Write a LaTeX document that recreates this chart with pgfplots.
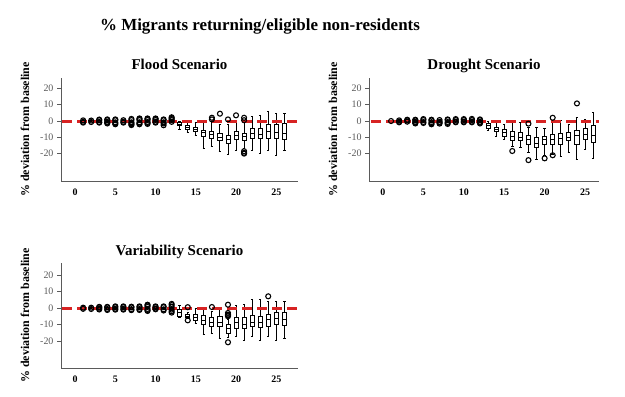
\documentclass[border=0pt]{standalone}
\usepackage{fontspec}
\setmainfont{Liberation Serif}
\usepackage{pgfplots}
\pgfplotsset{compat=1.18}
\usepgfplotslibrary{statistics}
\definecolor{axgray}{RGB}{90,90,90}
\definecolor{zred}{RGB}{215,35,35}
\newcommand{\bx}[7]{\addplot[black, mark=o, mark size=2.5bp, mark options={solid, draw=black, fill=none, line width=1.1pt}, boxplot prepared={draw position=#1,lower whisker=#2,lower quartile=#3,median=#4,upper quartile=#5,upper whisker=#6}] coordinates {#7};}
\newcommand{\ebx}[2]{\bx{#1}{-0.3}{-0.15}{0}{0.15}{0.3}{#2}}
\pgfplotsset{
  myax/.style={
    scale only axis,
    axis x line*=bottom, axis y line*=left,
    axis line style={-, draw=axgray, line width=0.9pt},
    xtick={0,5,10,15,20,25},
    ytick={-20,-10,0,10,20},
    yticklabels={-20,-10,0,10,20},
    x tick style={draw=none},
    y tick style={draw=axgray, line width=0.8pt},
    tick align=outside,
    major tick length=4bp,
    /pgf/number format/assume math mode=true,
    xticklabel style={font=\fontsize{10}{10}\selectfont\bfseries, text=black, yshift=0bp},
    yticklabel style={font=\fontsize{10}{10}\selectfont, text=axgray},
    ylabel={\% deviation from baseline},
    ylabel style={font=\fontsize{12}{12}\selectfont\bfseries, yshift=4bp},
    every axis title shift=0pt,
    title style={font=\fontsize{15}{15}\selectfont\bfseries, at={(0.5,1)}, anchor=base, yshift=8bp},
    boxplot/draw direction=y,
    boxplot/box extend=0.5,
    boxplot/whisker extend=0.3,
    boxplot/every box/.style={draw=black, line width=0.9pt},
    boxplot/every whisker/.style={black, line width=0.9pt},
    boxplot/every median/.style={black, line width=0.9pt},
    clip=false,
  },
  zeroline/.style={zred, line width=3bp, dash pattern=on 10bp off 5bp, mark=none},
}
\begin{document}
\begin{tikzpicture}
\useasboundingbox (0,0) rectangle (625bp,397bp);
\node[font=\fontsize{17}{17}\selectfont\bfseries] at (260bp,371bp) {\% Migrants returning/eligible non-residents};

% ---------------- Flood ----------------
\begin{axis}[myax, at={(61bp,216bp)}, anchor=south west, width=237bp, height=103bp,
  xmin=-1.75, xmax=27.7, ymin=-36.8, ymax=26.4, title={Flood Scenario}]
\ebx{1}{(1,-1) (1,-0.5) (1,0.4)}
\ebx{2}{(2,-0.6) (2,0.3)}
\ebx{3}{(3,-1) (3,-0.6) (3,0.5) (3,0.9)}
\ebx{4}{(4,-1.5) (4,-1) (4,-0.5) (4,0.5) (4,1)}
\ebx{5}{(5,-2) (5,-1.4) (5,-0.8) (5,0.5) (5,1)}
\ebx{6}{(6,-1) (6,-0.5) (6,0.5)}
\ebx{7}{(7,-2.5) (7,-2) (7,-1.4) (7,-0.8) (7,0.6) (7,1.3)}
\ebx{8}{(8,-2) (8,-1.5) (8,-0.8) (8,0.6) (8,1.2) (8,1.6)}
\ebx{9}{(9,-1.8) (9,-1.2) (9,-0.6) (9,0.6) (9,1.2) (9,1.6)}
\ebx{10}{(10,-1) (10,-0.5) (10,0.6) (10,1.2) (10,1.6)}
\ebx{11}{(11,-2.6) (11,-1.5) (11,-0.8) (11,0.5) (11,1)}
\ebx{12}{(12,-0.5) (12,0.6) (12,1.2) (12,1.8) (12,2.3)}
\bx{13}{-5}{-3}{-2}{-1}{0}{}
\bx{14}{-7}{-5}{-4}{-3}{-1}{}
\bx{15}{-9}{-6.5}{-5}{-4}{-1}{}
\bx{16}{-16.7}{-9.2}{-7}{-5.5}{0}{}
\bx{17}{-15.7}{-10.6}{-8.5}{-6.5}{0}{(17,2) (17,1)}
\bx{18}{-18.8}{-12}{-10}{-7.5}{-2}{(18,4.5)}
\bx{19}{-20.8}{-13.7}{-11}{-8.6}{-2}{(19,1)}
\bx{20}{-17.8}{-11.6}{-9}{-6.5}{0}{(20,3.5)}
\bx{21}{-17}{-12}{-9.5}{-7.5}{-1}{(21,2) (21,0.5) (21,-18.5) (21,-19.5) (21,-20)}
\bx{22}{-17.8}{-10.6}{-7.5}{-4.5}{2.7}{}
\bx{23}{-19.8}{-10.6}{-8}{-4.5}{3.3}{}
\bx{24}{-18.2}{-10.6}{-6.5}{-2.4}{5.7}{}
\bx{25}{-21.4}{-10.6}{-7}{-2.4}{4.7}{}
\bx{26}{-17.8}{-11.2}{-7.5}{-1.4}{4.7}{}
\addplot[zeroline] coordinates {(-1.6,0) (27.6,0)};
\end{axis}

% ---------------- Drought ----------------
\begin{axis}[myax, at={(369bp,216bp)}, anchor=south west, width=230bp, height=103bp,
  xmin=-1.73, xmax=26.73, ymin=-36.8, ymax=26.4, title={Drought Scenario}]
\ebx{1}{(1,0)}
\ebx{2}{(2,-0.8) (2,-0.4) (2,0.4)}
\ebx{3}{(3,-0.4) (3,0.4) (3,0.8)}
\ebx{4}{(4,-1.5) (4,-1) (4,-0.5) (4,0.4) (4,0.8)}
\ebx{5}{(5,-1.2) (5,-0.6) (5,0.6) (5,1.2)}
\ebx{6}{(6,-2) (6,-1.4) (6,-0.7) (6,0.4) (6,0.8)}
\ebx{7}{(7,-1.6) (7,-1) (7,-0.5) (7,0.6)}
\ebx{8}{(8,-1.8) (8,-1.2) (8,-0.6) (8,0.6) (8,1)}
\ebx{9}{(9,-0.8) (9,-0.4) (9,0.6) (9,1.2)}
\ebx{10}{(10,-0.8) (10,-0.4) (10,0.6) (10,1.2)}
\ebx{11}{(11,-0.8) (11,-0.4) (11,0.6) (11,1.3)}
\ebx{12}{(12,-1.5) (12,-1) (12,-0.5) (12,0.5) (12,1)}
\bx{13}{-6}{-4.7}{-3}{-1.6}{-0.5}{}
\bx{14}{-9.2}{-6.7}{-5}{-3.7}{-1}{}
\bx{15}{-11.6}{-9.2}{-7}{-5.1}{-2}{}
\bx{16}{-15.3}{-12.2}{-9.5}{-6.7}{-0.6}{(16,-18.4)}
\bx{17}{-16.3}{-12}{-10}{-7}{-1}{}
\bx{18}{-19.4}{-14.3}{-11.5}{-8.8}{-4}{(18,-1.6) (18,-24)}
\bx{19}{-23.5}{-16.3}{-13.5}{-10.2}{-4}{}
\bx{20}{-21.4}{-14.3}{-11.5}{-9.2}{-4.7}{(20,-22.9)}
\bx{21}{-20.4}{-14.3}{-11}{-8.2}{-1}{(21,2) (21,-21)}
\bx{22}{-21.8}{-14.3}{-10.5}{-7.8}{0.6}{}
\bx{23}{-19}{-12.2}{-10}{-7}{-2}{}
\bx{24}{-23.7}{-14.3}{-9}{-6}{2}{(24,10.8)}
\bx{25}{-17.3}{-11.6}{-8}{-4.7}{1}{}
\bx{26}{-22.9}{-13.3}{-9}{-2.7}{5.1}{}
\addplot[zeroline] coordinates {(-1.5,0) (26.7,0)};
\end{axis}

% ---------------- Variability ----------------
\begin{axis}[myax, at={(61bp,29bp)}, anchor=south west, width=237bp, height=105bp,
  xmin=-1.75, xmax=27.7, ymin=-36.4, ymax=27.3, title={Variability Scenario}]
\ebx{1}{(1,-0.5) (1,0.2)}
\ebx{2}{(2,-0.6) (2,0.2)}
\ebx{3}{(3,-0.9) (3,-0.4) (3,0.4) (3,0.7)}
\ebx{4}{(4,-1.2) (4,-0.6) (4,0.4) (4,0.7)}
\ebx{5}{(5,-1) (5,-0.5) (5,0.5) (5,1)}
\ebx{6}{(6,-1) (6,-0.5) (6,0.5) (6,1)}
\ebx{7}{(7,-1.3) (7,-0.7) (7,0.4) (7,0.8)}
\ebx{8}{(8,-1.2) (8,-0.6) (8,0.5) (8,1)}
\ebx{9}{(9,-1.8) (9,-1.3) (9,-0.6) (9,0.7) (9,1.5) (9,2)}
\ebx{10}{(10,-0.8) (10,-0.4) (10,0.5) (10,1)}
\ebx{11}{(11,-1.5) (11,-0.8) (11,0.5) (11,1)}
\ebx{12}{(12,-2.8) (12,-2) (12,-1) (12,0.8) (12,1.8) (12,2.5)}
\bx{13}{-6}{-5}{-3}{-1}{1.6}{}
\bx{14}{-6.5}{-6}{-5}{-3.7}{-2.5}{(14,0.5) (14,-7.5)}
\bx{15}{-9.2}{-7.5}{-6}{-4}{0}{}
\bx{16}{-16.3}{-9.8}{-7.5}{-4.7}{-1}{}
\bx{17}{-15.3}{-11.2}{-8.5}{-6}{-2}{(17,0.6)}
\bx{18}{-18.4}{-11.2}{-9}{-5}{-1}{}
\bx{19}{-18}{-15.3}{-12.5}{-10}{-7}{(19,2) (19,-3) (19,-4) (19,-4.5) (19,-5) (19,-20.8)}
\bx{20}{-17.3}{-12.6}{-9}{-6}{1.6}{}
\bx{21}{-19.4}{-12.6}{-10}{-6}{2}{}
\bx{22}{-17.3}{-11.2}{-8.5}{-4.7}{5.1}{}
\bx{23}{-19.4}{-11.8}{-8.5}{-5}{5.1}{}
\bx{24}{-17.3}{-11.2}{-7}{-3.7}{3.7}{(24,7.1)}
\bx{25}{-19.4}{-10.2}{-6.5}{-3}{3.7}{}
\bx{26}{-18.4}{-10.6}{-7}{-3}{4}{}
\addplot[zeroline] coordinates {(-1.6,0) (27.6,0)};
\end{axis}
\end{tikzpicture}
\end{document}
